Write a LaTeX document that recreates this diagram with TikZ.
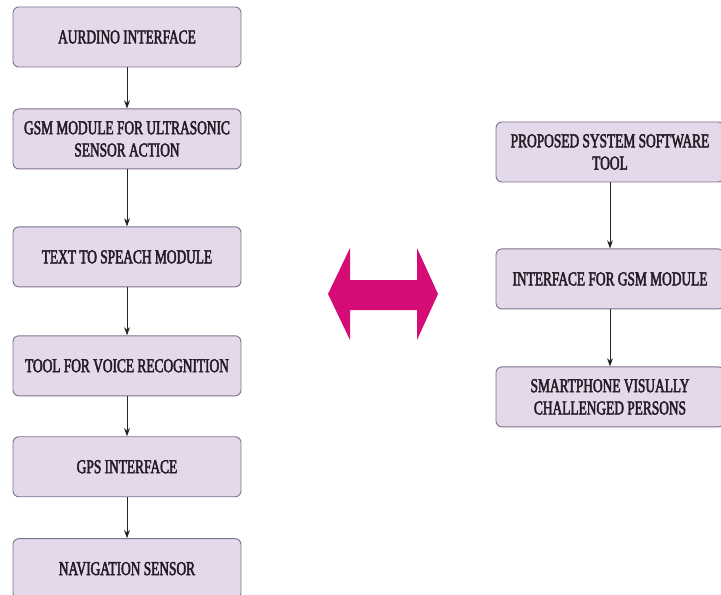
\documentclass[tikz,border=0pt]{standalone}
\usepackage{fontspec}
\newfontfamily\boxfont[FakeStretch=0.68,FakeBold=2.4]{Liberation Serif}
\usetikzlibrary{arrows.meta,positioning}

\definecolor{boxfill}{RGB}{228,217,234}
\definecolor{boxline}{RGB}{128,114,140}
\definecolor{boxtext}{RGB}{36,28,38}
\definecolor{linkpink}{RGB}{214,12,118}

\begin{document}
\begin{tikzpicture}[>={Stealth[length=7pt,width=5pt]},auto,node distance=12mm,
    block/.style={draw=boxline,fill=boxfill,rounded corners=5pt,line width=0.8pt,
      minimum width=68.4mm,minimum height=18mm,align=center,text=boxtext,
      font=\boxfont\fontsize{16.8}{19}\selectfont},
    flow/.style={->,draw=black!85,line width=0.8pt}]

            \useasboundingbox (0,0) rectangle (21.63,-17.85);

            % left chain
            \node[block] (a1) at (3.81,-1.11) {AURDINO INTERFACE};

            \node[block] (a2) [below=1.23cm of a1] {GSM MODULE FOR ULTRASONIC\\SENSOR ACTION};

            \node[block] (a3) [below=1.71cm of a2] {TEXT TO SPEACH MODULE};

            \node[block] (a4) [below=1.44cm of a3] {TOOL FOR VOICE RECOGNITION};

            \node[block] (a5) [below=1.2cm of a4] {GPS INTERFACE};

            \node[block] (a6) [below=1.23cm of a5] {NAVIGATION SENSOR};

            % right chain
            \node[block] (b1) at (18.3,-4.56) {PROPOSED SYSTEM SOFTWARE\\TOOL};

            \node[block] (b2) [below=1.98cm of b1] {INTERFACE FOR GSM MODULE};

            \node[block] (b3) [below=1.71cm of b2] {SMARTPHONE VISUALLY\\CHALLENGED PERSONS};

            

            \path[flow] (a1) edge (a2)
                        (a2) edge (a3)
                        (a3) edge (a4)
                        (a4) edge (a5)
                        (a5) edge (a6)
                        (b1) edge (b2)
                        (b2) edge (b3);

            % link between the two chains
            \fill[linkpink] (9.84,-8.82) -- (10.5,-7.44) -- (10.5,-8.4) -- (12.51,-8.4)
                -- (12.51,-7.44) -- (13.14,-8.82) -- (12.51,-10.2) -- (12.51,-9.3)
                -- (10.5,-9.3) -- (10.5,-10.2) -- cycle;

        \end{tikzpicture}
\end{document}
